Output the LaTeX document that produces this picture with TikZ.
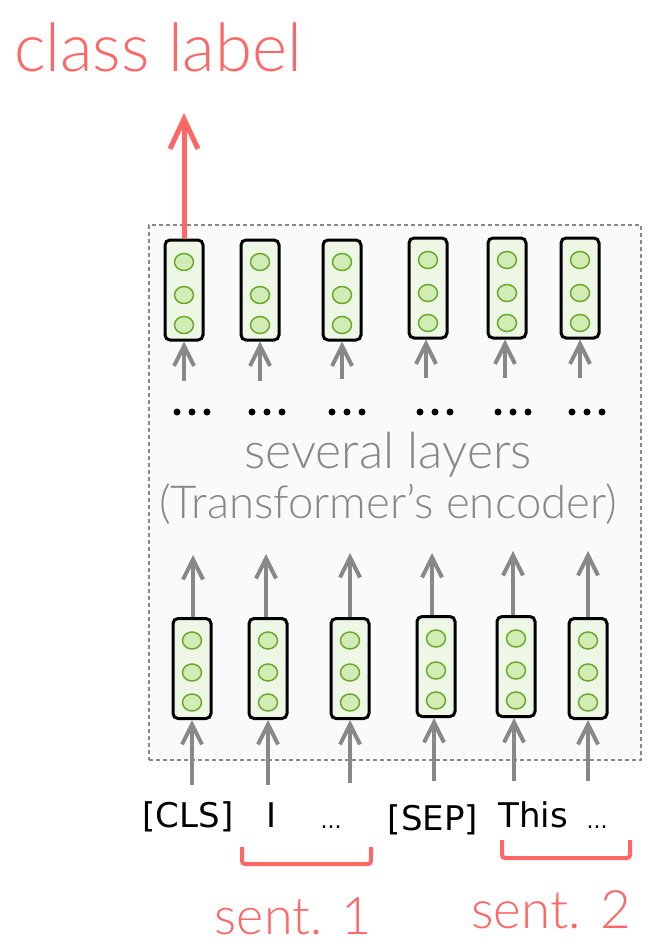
\documentclass[tikz,border=0pt]{standalone}
\usepackage{fontspec}
\setmainfont{Lato}[UprightFont={* Light}]
\newfontfamily\tokfont{DejaVu Sans}
\usetikzlibrary{arrows.meta,shapes.geometric}
\definecolor{redc}{HTML}{FF6666}
\definecolor{grayc}{HTML}{888888}
\definecolor{vecfill}{HTML}{EEF7E6}
\definecolor{circfill}{HTML}{D2ECB6}
\definecolor{circline}{HTML}{6AAA2A}
\definecolor{boxfill}{HTML}{FAFAFA}
\definecolor{boxline}{HTML}{888888}
\tikzset{
  vecbox/.style={draw=black, line width=3pt, rounded corners=5pt, fill=vecfill,
    minimum width=38pt, minimum height=100pt, inner sep=0pt},
  circ/.style={ellipse, draw=circline, line width=1.5pt, fill=circfill,
    minimum width=19pt, minimum height=17pt, inner sep=0pt},
  garrow/.style={draw=grayc, line width=4pt, -{Straight Barb[length=20pt,width=20pt,line width=4pt]}},
  rarrow/.style={draw=redc, line width=5pt, -{Straight Barb[length=30pt,width=28pt,line width=5pt]}},
  brack/.style={draw=redc, line width=4pt, rounded corners=3pt},
  tok/.style={font=\tokfont\fontsize{34}{40}\selectfont, anchor=base, inner sep=0pt},
  smalltok/.style={font=\tokfont\fontsize{22}{26}\selectfont, anchor=base, inner sep=0pt},
  redtxt/.style={text=redc, anchor=base, inner sep=0pt},
  graytxt/.style={text=grayc, anchor=base, inner sep=0pt},
  dot/.style={circle, fill=black, minimum size=7pt, inner sep=0pt},
}
\begin{document}
\begin{tikzpicture}[x=1pt, y=-1pt]
\useasboundingbox (0,0) rectangle (664,952);
% encoder box
\node[draw=boxline, dashed, line width=1.2pt, fill=boxfill, minimum width=492pt, minimum height=535pt, inner sep=0pt, dash pattern=on 4pt off 3pt] (enc) at (395,492.5) {};
% top vectors
\foreach \n/\x/\y in {1/184/290, 2/260/290, 3/342/290, 4/428/288, 5/507/288, 6/580/288}{
  \node[vecbox] (t\n) at (\x,\y) {};
  \node[circ] (t\n a) at (\x,\y-28) {};
  \node[circ] (t\n b) at (\x,\y+5) {};
  \node[circ] (t\n c) at (\x,\y+35) {};
}
% bottom vectors
\foreach \n/\x/\y in {1/192/668.5, 2/268/668.5, 3/350/668.5, 4/436/666.5, 5/516/666.5, 6/588/668.5}{
  \node[vecbox] (b\n) at (\x,\y) {};
  \node[circ] (b\n a) at (\x,\y-28) {};
  \node[circ] (b\n b) at (\x,\y+4) {};
  \node[circ] (b\n c) at (\x,\y+34) {};
}
% top arrows (into top vectors)
\foreach \n/\x/\y in {1/184/381, 2/260/381, 3/342/379, 4/426/378, 5/505/378, 6/580/378}{
  \coordinate (ta\n) at (\x,\y);
  \draw[garrow] (ta\n) -- (t\n.south -| ta\n);
}
% dots
\foreach \n/\x in {1/192, 2/267, 3/347, 4/435, 5/513, 6/587}{
  \node[dot] (d\n a) at (\x-15,412) {};
  \node[dot] (d\n b) at (\x,412) {};
  \node[dot] (d\n c) at (\x+15,412) {};
}
\node[graytxt, font=\fontsize{50}{60}\selectfont] (lay1) at (388,468) {several layers};
\node[graytxt, font=\fontsize{45.5}{55}\selectfont] (lay2) at (388,518) {(Transformer’s encoder)};
% arrows out of bottom vectors
\foreach \n/\x/\y in {1/193/555, 2/266/554, 3/350/553, 4/432/553, 5/513/551, 6/588/551}{
  \coordinate (ba\n) at (\x,\y);
  \draw[garrow] (b\n.north -| ba\n) -- (ba\n);
}
% arrows into bottom vectors
\foreach \n/\x/\y in {1/192/785, 2/268/785, 3/350/783, 4/434/781, 5/514/781, 6/588/781}{
  \coordinate (bi\n) at (\x,\y);
  \draw[garrow] (bi\n) -- (b\n.south -| bi\n);
}
% tokens
\node[tok] (w1) at (188,827) {[CLS]};
\node[tok] (w2) at (272,827) {I};
\node[smalltok] (w3) at (331,828) {...};
\node[tok] (w4) at (433,830) {[SEP]};
\node[tok] (w5) at (533,827) {This};
\node[smalltok] (w6) at (597,828) {...};
% brackets
\coordinate (s1a) at (242,847);
\coordinate (s1b) at (371,847);
\draw[brack] (s1a) -- (242,864) -- (371,864) -- (s1b);
\coordinate (s2a) at (502,840);
\coordinate (s2b) at (630,840);
\draw[brack] (s2a) -- (502,858) -- (630,858) -- (s2b);
\node[redtxt, font=\fontsize{52}{60}\selectfont] (sent1) at (293,934) {sent. 1};
\node[redtxt, font=\fontsize{53}{60}\selectfont] (sent2) at (551,928) {sent. 2};
% class label
\node[redtxt, font=\fontsize{67}{75}\selectfont] (cls) at (158,72) {class label};
\coordinate (clsarrow) at (184,113);
\draw[rarrow] (t1.north) -- (clsarrow);
\end{tikzpicture}
\end{document}
